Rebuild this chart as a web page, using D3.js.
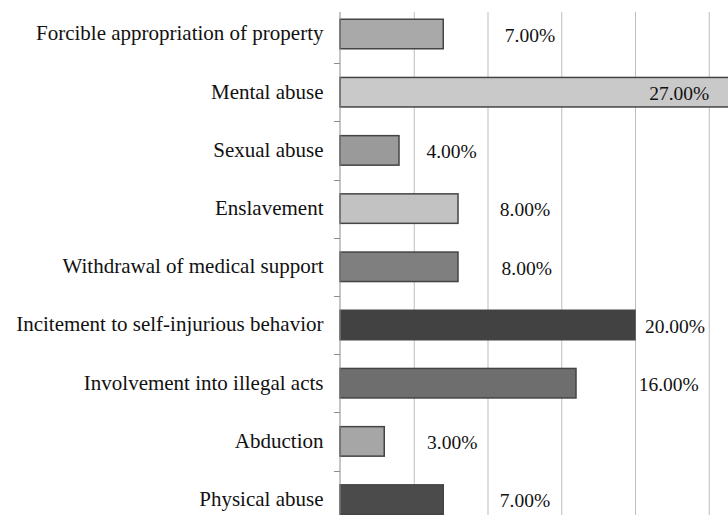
<!DOCTYPE html>
<html>
<head>
<meta charset="utf-8">
<script src="https://cdn.jsdelivr.net/npm/d3@7"></script>
<style>
  body { margin: 0; background: #fff; }
  svg { display: block; }
  text { font-family: "Liberation Serif", "Times New Roman", serif; fill: #111; }
</style>
</head>
<body>
<div id="chart"></div>
<script>
// chart data, top to bottom
const categories = [
  'Forcible appropriation of property',
  'Mental abuse',
  'Sexual abuse',
  'Enslavement',
  'Withdrawal of medical support',
  'Incitement to self-injurious behavior',
  'Involvement into illegal acts',
  'Abduction',
  'Physical abuse'
];
const values = [7, 27, 4, 8, 8, 20, 16, 3, 7];
const gridTicks = [5, 10, 15, 20, 25];

// styling per bar (kept apart from the data)
const barColors = ['#a9a9a9', '#c9c9c9', '#9a9a9a', '#c2c2c2', '#7f7f7f', '#424242', '#6e6e6e', '#a6a6a6', '#4b4b4b'];
// where each value label sits (centre, in axis units)
const labelAt = [12.88, 23.0, 7.57, 12.54, 12.66, 22.71, 22.29, 7.61, 12.54];

const width = 728, height = 515;

const svg = d3.select('#chart').append('svg')
  .attr('width', width)
  .attr('height', height);

const x = d3.scaleLinear().domain([0, 25]).range([340, 708.75]);
const y = d3.scaleBand().domain(categories).range([4.9, 528.7]).paddingInner(0).paddingOuter(0);
const plotTop = 12;

// vertical gridlines
svg.append('g')
  .selectAll('line')
  .data(gridTicks)
  .join('line')
  .attr('x1', d => x(d) + 0.5)
  .attr('x2', d => x(d) + 0.5)
  .attr('y1', plotTop)
  .attr('y2', height)
  .attr('stroke', '#bdbdbd')
  .attr('stroke-width', 1);

// bars
const barH = 29.5;
svg.append('g')
  .selectAll('rect')
  .data(values)
  .join('rect')
  .attr('x', x(0))
  .attr('y', (d, i) => y(categories[i]) + (y.bandwidth() - barH) / 2)
  .attr('width', d => x(d) - x(0))
  .attr('height', barH)
  .attr('fill', (d, i) => barColors[i])
  .attr('stroke', '#444')
  .attr('stroke-width', 1.5);

// category axis
const yAxis = svg.append('g')
  .attr('transform', `translate(${x(0)},0)`)
  .call(d3.axisLeft(y).tickSize(0).tickPadding(16.5));
yAxis.select('.domain').remove();
yAxis.selectAll('text')
  .attr('font-size', 21)
  .attr('dy', '0.3em');

svg.append('line')
  .attr('x1', x(0)).attr('x2', x(0))
  .attr('y1', plotTop).attr('y2', height)
  .attr('stroke', '#8c8c8c');

// tick marks between categories
svg.append('g')
  .selectAll('line')
  .data(categories.slice(1))
  .join('line')
  .attr('x1', x(0) - 6)
  .attr('x2', x(0))
  .attr('y1', d => Math.round(y(d)) + 0.5)
  .attr('y2', d => Math.round(y(d)) + 0.5)
  .attr('stroke', '#8c8c8c');

// value labels
svg.append('g')
  .selectAll('text')
  .data(values)
  .join('text')
  .attr('x', (d, i) => x(labelAt[i]))
  .attr('y', (d, i) => y(categories[i]) + y.bandwidth() / 2 + 1)
  .attr('dy', '0.35em')
  .attr('text-anchor', 'middle')
  .attr('font-size', 19.5)
  .text(d => d3.format('.2f')(d) + '%');
</script>
</body>
</html>
